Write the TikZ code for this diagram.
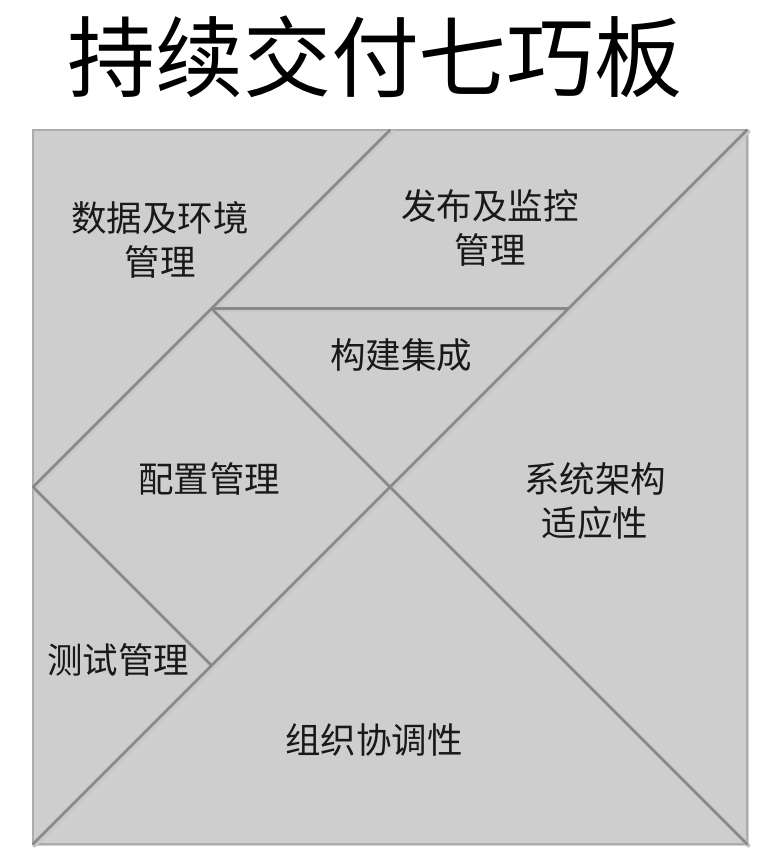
\documentclass[tikz,border=0pt]{standalone}
\usepackage{fontspec}
\newfontfamily\cjk{Noto Sans CJK SC}
\usepackage{tikz}
\usetikzlibrary{positioning, calc}
\definecolor{tanfill}{RGB}{206,206,206}
\definecolor{tanline}{RGB}{136,136,136}
\definecolor{tanrim}{RGB}{172,172,172}
\tikzstyle{cut} = [tanline, line width=2.8pt, line cap=round]
\tikzstyle{cutshade} = [black!22, line width=4pt, line cap=round]
\tikzstyle{piecetext} = [font=\cjk\fontsize{35.5}{44}\selectfont, align=center, text=black!90, inner sep=0pt]

\begin{document}
\begin{tikzpicture}[x=1pt, y=-1pt]
        \useasboundingbox (0,0) rectangle (780,868);
        % corners and cut points of the square
        \coordinate (tl) at (33,130);
        \coordinate (tr) at (747,130);
        \coordinate (br) at (747,844);
        \coordinate (bl) at (33,844);
        \coordinate (tm) at (390,130);
        \coordinate (lm) at (33,487);
        \coordinate (mid) at (390,487);
        \coordinate (p1) at (211.5,308.5);
        \coordinate (p2) at (568.5,308.5);
        \coordinate (q) at (211.5,665.5);

        \node[font=\cjk\fontsize{88}{96}\selectfont, inner sep=0pt] (title) at (375,57) {持续交付七巧板};

        \fill[black!18] ($(tl)+(2,2)$) rectangle ($(br)+(2,2)$);
        \fill[tanfill] (tl) rectangle (br);
        \draw[tanrim, line width=1.2pt] (tl) rectangle (br);

        % soft shade under the cuts
        \draw[cutshade] ($(tm)+(1.5,1.5)$) -- ($(lm)+(1.5,1.5)$);
        \draw[cutshade] ($(tr)+(1.5,1.5)$) -- ($(bl)+(1.5,1.5)$);
        \draw[cutshade] ($(p1)+(1.5,1.5)$) -- ($(p2)+(1.5,1.5)$);
        \draw[cutshade] ($(p1)+(1.5,1.5)$) -- ($(br)+(1.5,1.5)$);
        \draw[cutshade] ($(lm)+(1.5,1.5)$) -- ($(q)+(1.5,1.5)$);

        \draw[cut] (tm) -- (lm);
        \draw[cut] (tr) -- (bl);
        \draw[cut] (p1) -- (p2);
        \draw[cut] (p1) -- (mid) -- (br);
        \draw[cut] (lm) -- (q);

        \node[piecetext] (data) at (160,240) {数据及环境\\管理};
        \node[piecetext] (release) at (490,228) {发布及监控\\管理};
        \node[piecetext] (build) at (401,355) {构建集成};
        \node[piecetext] (config) at (209,479) {配置管理};
        \node[piecetext] (arch) at (595,501) {系统架构\\适应性};
        \node[piecetext] (test) at (118,660) {测试管理};
        \node[piecetext] (org) at (374,740) {组织协调性};
\end{tikzpicture}
\end{document}
